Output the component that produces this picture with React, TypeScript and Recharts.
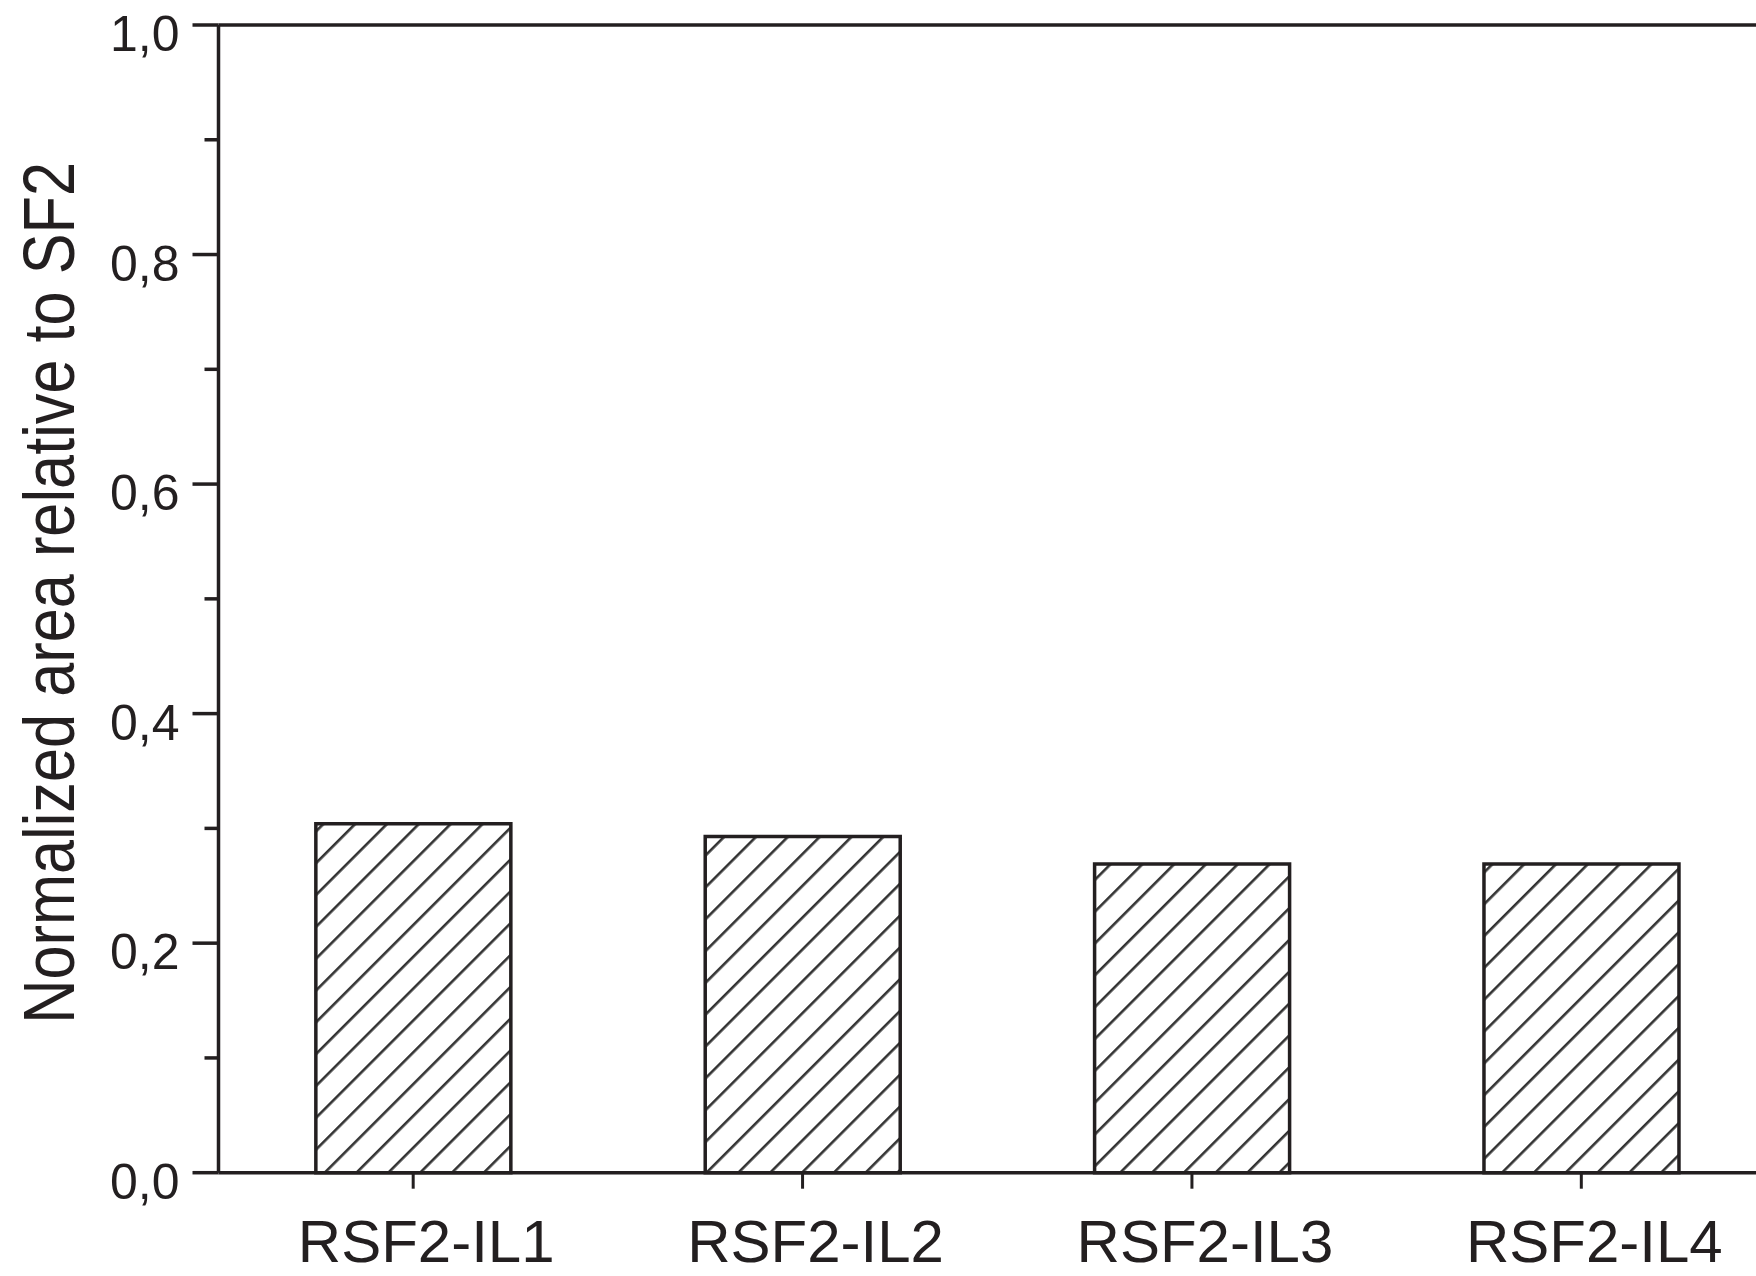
import React from 'react';
import { BarChart, Bar, XAxis, YAxis, ReferenceLine } from 'recharts';

const categories = ['RSF2-IL1', 'RSF2-IL2', 'RSF2-IL3', 'RSF2-IL4'];
const areaValues = [0.304, 0.293, 0.269, 0.269];
const yTicks = [0, 0.1, 0.2, 0.3, 0.4, 0.5, 0.6, 0.7, 0.8, 0.9, 1.0];
const yTickLabels = ['0,0', '', '0,2', '', '0,4', '', '0,6', '', '0,8', '', '1,0'];

const INK = '#231f20';
const FONT = '"Liberation Sans", Arial, sans-serif';

const data = categories.map((name, i) => ({ name, value: areaValues[i] }));

// y ticks: long (labelled) and short (minor) marks drawn by hand
const YTick = (props: any) => {
  const { x, y, index } = props;
  const label = yTickLabels[index];
  const axisX = x + 39;
  const len = label ? 26 : 14;
  return (
    <g>
      <line x1={axisX - len} x2={axisX} y1={y} y2={y} stroke={INK} strokeWidth={3.5} />
      {label && (
        <text x={x} y={y + 26} textAnchor="end" fontFamily={FONT} fontSize={50} fill={INK}>
          {label}
        </text>
      )}
    </g>
  );
};

const XTick = (props: any) => {
  const { x, y, payload } = props;
  return (
    <text x={x + 13} y={y} textAnchor="middle" fontFamily={FONT} fontSize={60} fill={INK}>
      {payload.value}
    </text>
  );
};

const YTitle = (props: any) => {
  const { viewBox } = props;
  const cy = viewBox.y + viewBox.height / 2 - 6;
  const bx = 74;
  return (
    <text
      x={bx}
      y={cy}
      transform={`rotate(-90, ${bx}, ${cy})`}
      textAnchor="middle"
      fontFamily={FONT}
      fontSize={72}
      fill={INK}
      textLength={862}
      lengthAdjust="spacingAndGlyphs"
    >
      Normalized area relative to SF2
    </text>
  );
};

export default function App() {
  return (
    <div style={{ position: 'absolute', left: 0, top: 0, width: 1756, height: 1276, overflow: 'hidden', background: '#fff' }}>
      <BarChart
        width={1776}
        height={1276}
        data={data}
        margin={{ top: 25, right: 0, bottom: 3.3, left: 0 }}
        barCategoryGap="25%"
      >
        <defs>
          <pattern id="hatch" patternUnits="userSpaceOnUse" width={22.5} height={22.5} patternTransform="rotate(45)">
            <rect width={22.5} height={22.5} fill="#fff" />
            <line x1={1.3} y1={0} x2={1.3} y2={22.5} stroke="#333" strokeWidth={2.6} />
          </pattern>
        </defs>
        <XAxis
          dataKey="name"
          height={100}
          axisLine={{ stroke: INK, strokeWidth: 3.5 }}
          tickLine={{ stroke: INK, strokeWidth: 3 }}
          tickSize={16}
          tickMargin={73}
          tick={<XTick />}
          interval={0}
        />
        <YAxis
          domain={[0, 1]}
          ticks={yTicks}
          width={218.5}
          axisLine={{ stroke: INK, strokeWidth: 3.5 }}
          tickLine={false}
          tickSize={26}
          tickMargin={13}
          tick={<YTick />}
          interval={0}
          label={<YTitle />}
        />
        <ReferenceLine y={1} stroke={INK} strokeWidth={3.5} />
        <Bar dataKey="value" fill="url(#hatch)" stroke={INK} strokeWidth={3.5} isAnimationActive={false} />
      </BarChart>
    </div>
  );
}
